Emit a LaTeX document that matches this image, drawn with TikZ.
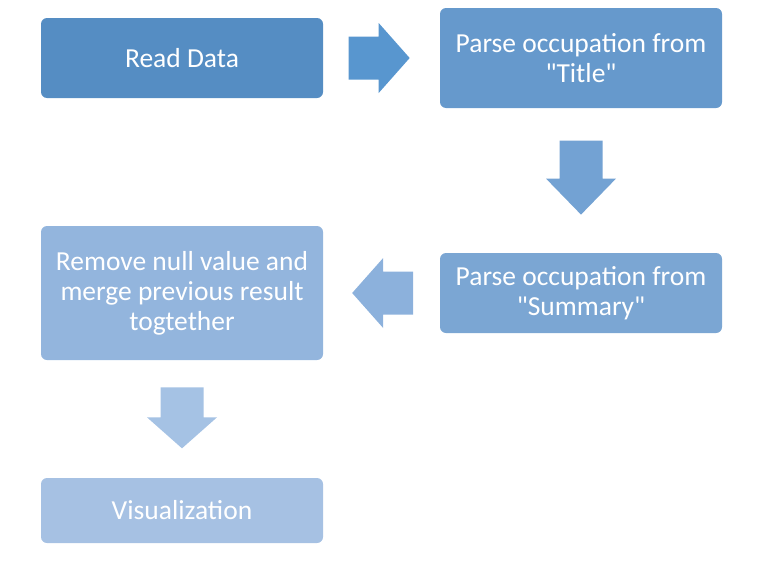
\documentclass[tikz,border=0pt]{standalone}
\usepackage{fontspec}
\newfontfamily\carlito{Carlito}
\usepackage{tikz}
\usetikzlibrary{calc}
\definecolor{boxA}{HTML}{558DC3}
\definecolor{boxB}{HTML}{6699CC}
\definecolor{boxC}{HTML}{7BA6D3}
\definecolor{boxD}{HTML}{93B5DD}
\definecolor{boxE}{HTML}{A6C1E3}
\definecolor{arrA}{HTML}{5896CF}
\definecolor{arrB}{HTML}{73A2D3}
\definecolor{arrC}{HTML}{8CB1DC}
\definecolor{arrD}{HTML}{A5C2E4}
\tikzset{
  stage/.style={rounded corners=6pt, minimum width=282pt, inner sep=0pt,
    text=white, align=center, font=\carlito\fontsize{27.5}{30}\selectfont},
}
% block arrow: centre, angle, colour, half length, head start
\newcommand{\blockarrow}[5]{%
  \fill[#3, shift={(#1)}, rotate=#2]
    (-#4,-21.5) -- (#5,-21.5) -- (#5,-35) -- (#4,0) -- (#5,35) -- (#5,21.5) -- (-#4,21.5) -- cycle;}

\begin{document}
\begin{tikzpicture}[x=1pt, y=-1pt]
  \useasboundingbox (0,0) rectangle (757,562);
  \node[stage, fill=boxA, minimum height=80pt] (read) at (182,58) {Read Data};
  \node[stage, fill=boxB, minimum height=100pt] (title) at (581,58) {Parse occupation from\\"Title"};
  \node[stage, fill=boxC, minimum height=80pt] (summary) at (581,293) {Parse occupation from\\"Summary"};
  \node[stage, fill=boxD, minimum height=134pt] (clean) at (182,293) {Remove null value and\\merge previous result\\togtether};
  \node[stage, fill=boxE, minimum height=65pt] (vis) at (182,510.5) {Visualization};
  \coordinate (r2t) at ($(read.east)!0.48!(title.west)$);
  \coordinate (t2s) at ($(title.south)!0.48!(summary.north)$);
  \coordinate (s2c) at ($(summary.west)!0.49!(clean.east)$);
  \coordinate (c2v) at ($(clean.south)!0.49!(vis.north)$);
  \blockarrow{r2t}{0}{arrA}{30.5}{-0.5}
  \blockarrow{t2s}{-90}{arrB}{37}{1}
  \blockarrow{s2c}{180}{arrC}{30.5}{-0.5}
  \blockarrow{c2v}{-90}{arrD}{30.5}{-0.5}
\end{tikzpicture}
\end{document}
